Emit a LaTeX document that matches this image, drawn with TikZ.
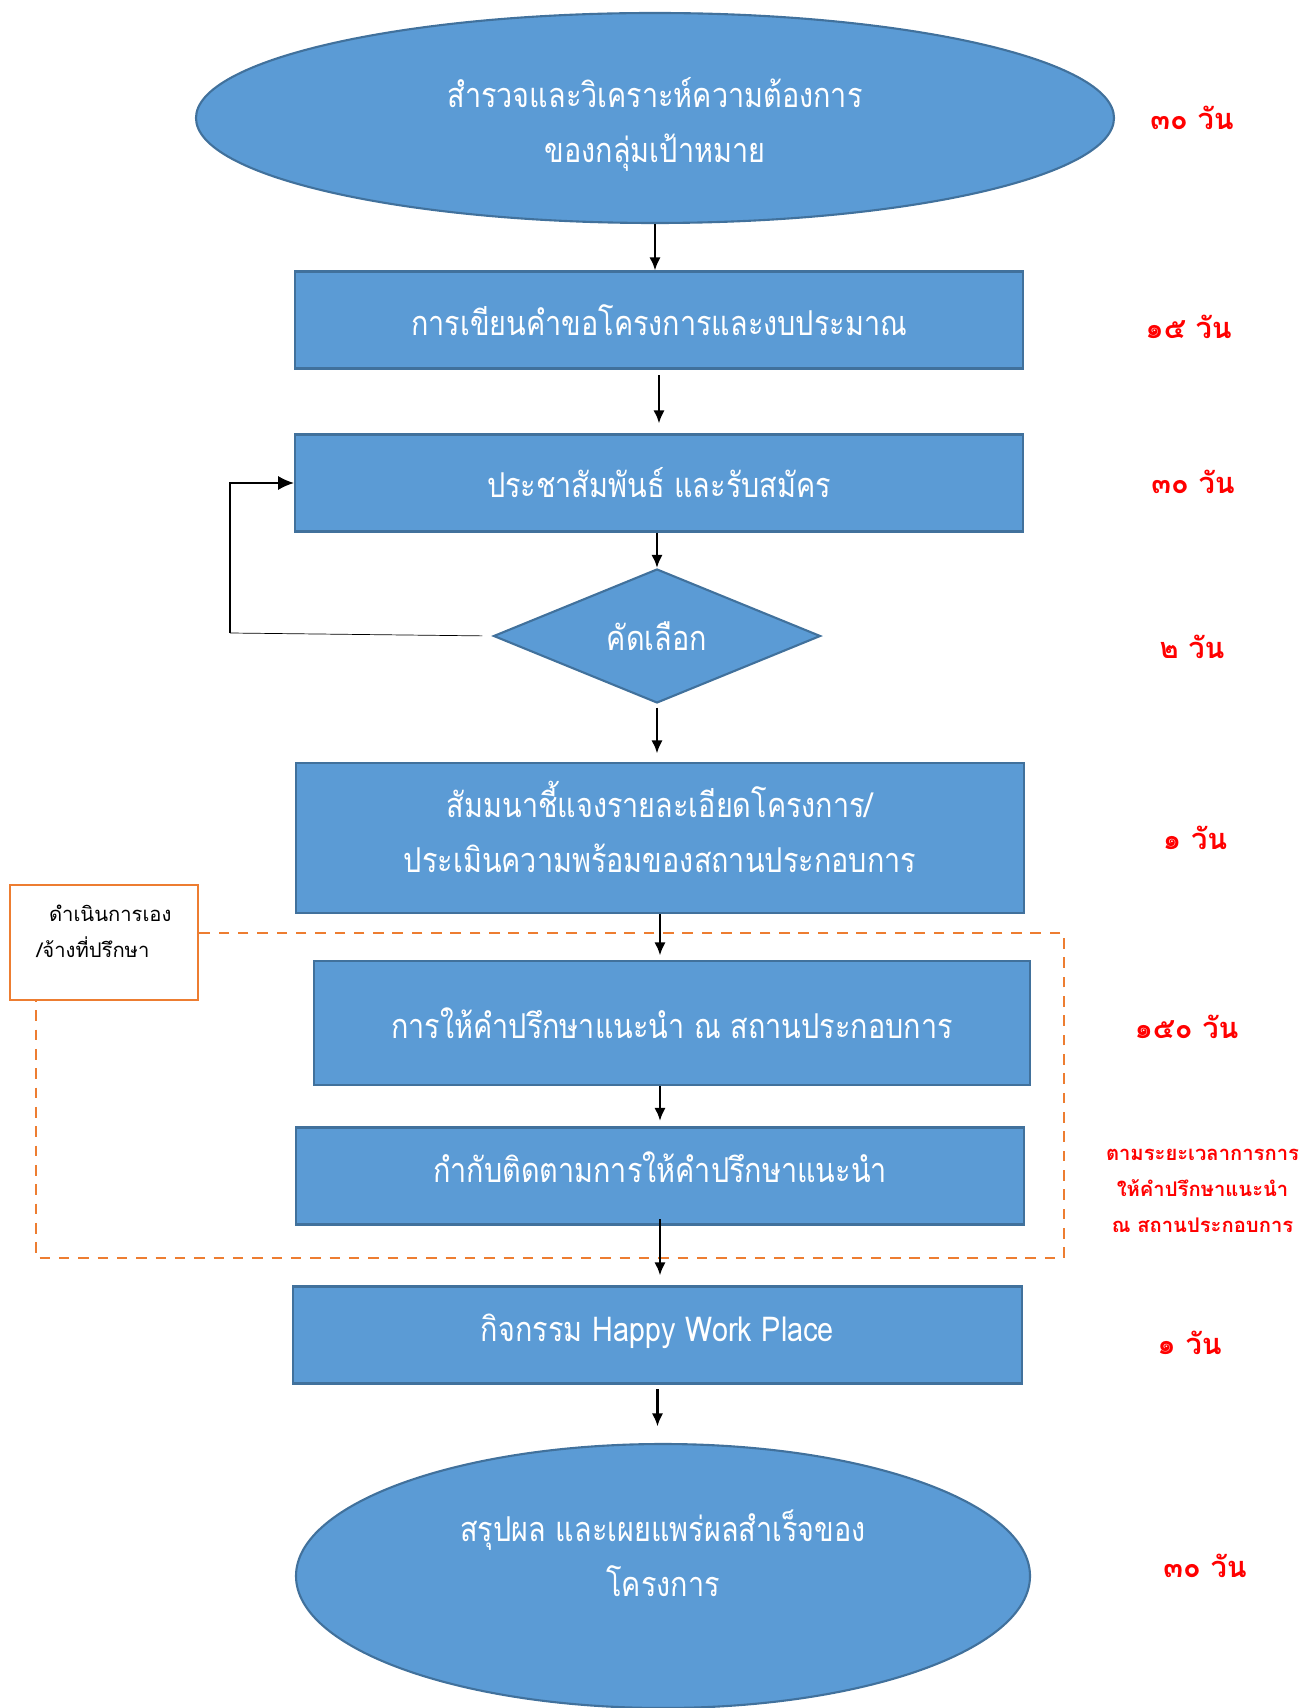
\documentclass[tikz,border=0pt]{standalone}
\usepackage{fontspec}
\newfontfamily\thai[Script=Thai]{Loma}
\newfontfamily\thainarrow[Script=Thai, FakeStretch=0.84]{Loma}
\usepackage{xcolor}
\usepackage{tikz}
\usetikzlibrary{arrows.meta}
\usetikzlibrary{shapes.geometric,calc,positioning}
\definecolor{boxblue}{HTML}{5B9BD5}
\definecolor{boxedge}{HTML}{41719C}
\definecolor{dashorange}{HTML}{ED7D31}
\tikzset{>={Latex[length=7.5pt,width=6.5pt]}}
\tikzset{
  boxtext/.style={text=white, align=center, inner sep=0pt, font=\thainarrow\fontsize{19.5}{31}\selectfont},
  stepbox/.style={boxtext, draw=boxedge, fill=boxblue, line width=1.2pt, minimum width=14.56cm, minimum height=1.94cm},
  ovalbox/.style={stepbox, ellipse},
  choicebox/.style={stepbox, diamond, minimum width=6.54cm, minimum height=2.68cm},
  dayslabel/.style={text=red, align=center, font=\thai\bfseries\fontsize{16.5}{22}\selectfont},
  flow/.style={->, line width=1.4pt},
}

\begin{document}
\begin{tikzpicture}
            \useasboundingbox (0,0) rectangle (26.08,-34.16);
            \node[ovalbox, minimum width=18.36cm, minimum height=4.2cm] (survey) at (13.10,-2.36) {};
            \node[boxtext] (survey-text) at ($(survey)+(0,-0.13)$) {สำรวจและวิเคราะห์ความต้องการ\\ของกลุ่มเป้าหมาย};
            \node[stepbox] (proposal) at (13.18,-6.40) {การเขียนคำขอโครงการและงบประมาณ};
            \node[stepbox] (publicity) at (13.18,-9.66) {ประชาสัมพันธ์ และรับสมัคร};
            \node[choicebox] (select) at (13.14,-12.72) {คัดเลือก};
            \node[stepbox, minimum height=3.0cm] (seminar) at (13.20,-16.76) {};
            \node[boxtext] (seminar-text) at ($(seminar)+(0,0.22)$) {สัมมนาชี้แจงรายละเอียดโครงการ/\\ประเมินความพร้อมของสถานประกอบการ};
            \draw[dashorange, line width=1.2pt, dash pattern=on 6pt off 5pt] (0.72,-18.66) rectangle (21.28,-25.16);
            \node[stepbox, minimum width=14.32cm, minimum height=2.48cm] (consult) at (13.44,-20.46) {การให้คำปรึกษาแนะนำ ณ สถานประกอบการ};
            \node[stepbox] (monitor) at (13.20,-23.52) {};
            \node[boxtext] (monitor-text) at ($(monitor)+(0,0.17)$) {กำกับติดตามการให้คำปรึกษาแนะนำ};
            \node[stepbox, minimum width=14.58cm] (happy) at (13.15,-26.70) {};
            \node[boxtext] (happy-text) at ($(happy)+(0,0.08)$) {กิจกรรม Happy Work Place};
            \node[ovalbox, minimum width=14.68cm, minimum height=5.28cm] (summary) at (13.26,-31.52) {};
            \node[boxtext] (summary-text) at ($(summary)+(0,0.46)$) {สรุปผล และเผยแพร่ผลสำเร็จของ\\โครงการ};
            \node[draw=dashorange, fill=white, line width=1.2pt, minimum width=3.76cm, minimum height=2.30cm, align=left, font=\thai\fontsize{11.5}{20.5}\selectfont] (self) at (2.08,-18.85) {\hspace{0.25cm}ดำเนินการเอง\\/จ้างที่ปรึกษา\\[-8pt]};
            \node[dayslabel] (d-survey) at (23.84,-2.36) {๓๐ วัน};
            \node[dayslabel] (d-proposal) at (23.77,-6.54) {๑๕ วัน};
            \node[dayslabel] (d-publicity) at (23.86,-9.63) {๓๐ วัน};
            \node[dayslabel] (d-select) at (23.84,-12.94) {๒ วัน};
            \node[dayslabel] (d-seminar) at (23.90,-16.76) {๑ วัน};
            \node[dayslabel] (d-consult) at (23.73,-20.54) {๑๕๐ วัน};
            \node[dayslabel, font=\thai\bfseries\fontsize{11.5}{20.5}\selectfont] (d-monitor) at (24.05,-23.82) {ตามระยะเวลาการการ\\ให้คำปรึกษาแนะนำ\\ณ สถานประกอบการ};
            \node[dayslabel] (d-happy) at (23.79,-26.86) {๑ วัน};
            \node[dayslabel] (d-summary) at (24.10,-31.31) {๓๐ วัน};
            \coordinate (loop-corner) at (4.60,-12.66);
            \draw[flow] (survey.south) -- (survey.south |- proposal.north);
            \draw[flow, shorten <=0.11cm, shorten >=0.2cm] (proposal.south) -- (proposal.south |- publicity.north);
            \draw[flow] (select.north |- publicity.south) -- (select.north);
            \draw[flow, shorten <=0.07cm, shorten >=0.17cm] (select.south) -- (select.south |- seminar.north);
            \draw[flow, shorten >=0.09cm] (seminar.south) -- (seminar.south |- consult.north);
            \draw[flow, shorten >=0.11cm] (monitor.north |- consult.south) -- (monitor.north);
            \draw[flow, shorten <=-0.13cm, shorten >=0.2cm] (monitor.south) -- (monitor.south |- happy.north);
            \draw[flow, shorten <=0.09cm, shorten >=0.33cm] (happy.south) -- (happy.south |- summary.north);
            \draw[thin, shorten <=0.2cm] (select.west) -- (loop-corner);
            \draw[-{Latex[length=9pt,width=8pt]}, line width=1pt] (loop-corner) |- (publicity.west);
        \end{tikzpicture}
\end{document}
